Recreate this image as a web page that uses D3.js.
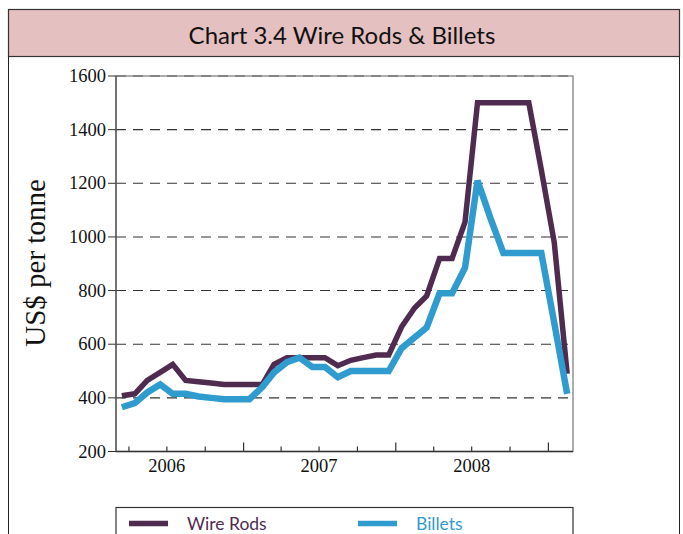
<!DOCTYPE html>
<html>
<head>
<meta charset="utf-8">
<script src="https://cdn.jsdelivr.net/npm/d3@7/dist/d3.min.js"></script>
<style>
  body { margin: 0; background: #fff; }
  svg { display: block; }
</style>
</head>
<body>
<svg width="683" height="534"></svg>
<script>
// monthly, Mar 2006 - Feb 2009
const months = d3.timeMonth.range(new Date(2006, 2, 1), new Date(2009, 2, 1));
const wireRods = [408, 415, 465, 495, 525, 465, 460, 455, 450, 450, 450, 450,
  525, 550, 550, 550, 550, 520, 540, 550, 560, 560,
  665, 735, 780, 920, 920, 1055, 1500, 1500, 1500, 1500, 1500, 1250, 980, 490];
const billets = [365, 380, 420, 450, 415, 415, 405, 400, 395, 395, 395, 440,
  495, 533, 550, 515, 515, 477, 500, 500, 500, 500,
  585, 625, 662, 790, 790, 885, 1210, 1070, 940, 940, 940, 940, 680, 415];
const yTicks = [200, 400, 600, 800, 1000, 1200, 1400, 1600];
const years = [2006, 2007, 2008];

const purple = "#4f2b50", blue = "#2f9bcf";
const svg = d3.select("svg");

// outer frame + title band
svg.append("rect").attr("x", 8.5).attr("y", 9.5).attr("width", 671).attr("height", 47)
  .attr("fill", "#e5c0c0").attr("stroke", "#333").attr("stroke-width", 1.2);
svg.append("line").attr("x1", 8.5).attr("x2", 8.5).attr("y1", 56).attr("y2", 534).attr("stroke", "#222");
svg.append("line").attr("x1", 679.5).attr("x2", 679.5).attr("y1", 56).attr("y2", 534).attr("stroke", "#222");
svg.append("text").attr("x", 342).attr("y", 44).attr("text-anchor", "middle")
  .attr("font-family", "Lato, 'Open Sans', sans-serif").attr("font-size", 24).attr("fill", "#111")
  .text("Chart 3.4 Wire Rods & Billets");

const pLeft = 116, pRight = 573, pTop = 76, pBottom = 451.5;
const x = d3.scaleTime()
  .domain([new Date(2006, 2, 1), new Date(2009, 2, 1)])
  .range([pLeft, pRight]);
const y = d3.scaleLinear().domain([200, 1600]).range([pBottom, pTop]);
const mid = d => new Date(d.getFullYear(), d.getMonth(), 15);

// grid
svg.append("g").selectAll("line").data(yTicks.filter(v => v > 200))
  .join("line")
  .attr("x1", pLeft).attr("x2", pRight)
  .attr("y1", d => y(d)).attr("y2", d => y(d))
  .attr("stroke", "#333").attr("stroke-width", 1.1).attr("stroke-dasharray", "10,7");

// plot frame
svg.append("rect").attr("x", pLeft).attr("y", pTop).attr("width", pRight - pLeft).attr("height", pBottom - pTop)
  .attr("fill", "none").attr("stroke", "#777").attr("stroke-width", 1.2);
svg.append("line").attr("x1", pLeft).attr("x2", pRight).attr("y1", pBottom).attr("y2", pBottom)
  .attr("stroke", "#333").attr("stroke-width", 1.3);
svg.append("line").attr("x1", pLeft).attr("x2", pLeft).attr("y1", pTop).attr("y2", pBottom)
  .attr("stroke", "#555").attr("stroke-width", 1.3);

// y ticks
const yg = svg.append("g");
yg.selectAll("line").data(yTicks).join("line")
  .attr("x1", pLeft - 8).attr("x2", pLeft)
  .attr("y1", d => y(d)).attr("y2", d => y(d)).attr("stroke", "#333");
yg.selectAll("text").data(yTicks).join("text")
  .attr("x", 106).attr("y", d => y(d) + 6).attr("text-anchor", "end")
  .attr("font-family", "'Liberation Serif', 'DejaVu Serif', serif").attr("font-size", 18.5).attr("fill", "#111")
  .text(d => d);

// x ticks: quarters, year boundaries taller
const quarters = d3.timeMonth.every(3).range(new Date(2006, 2, 1), new Date(2009, 2, 1));
svg.append("g").selectAll("line").data(quarters).join("line")
  .attr("x1", d => x(d)).attr("x2", d => x(d))
  .attr("y1", pBottom).attr("y2", d => pBottom - (d.getMonth() === 0 ? 9 : 5))
  .attr("stroke", "#333").attr("stroke-width", 1.2);
svg.append("g").selectAll("text").data(years).join("text")
  .attr("x", d => x(new Date(d, 6, 1))).attr("y", 472).attr("text-anchor", "middle")
  .attr("font-family", "'Liberation Serif', 'DejaVu Serif', serif").attr("font-size", 18.5).attr("fill", "#111")
  .text(d => d);

// y label
svg.append("text").attr("transform", "translate(45,263) rotate(-90)").attr("text-anchor", "middle")
  .attr("font-family", "'Liberation Serif', 'DejaVu Serif', serif").attr("font-size", 29).attr("fill", "#111")
  .text("US$ per tonne");

// lines
const line = vals => d3.line().x((d, i) => x(mid(months[i]))).y(d => y(d))(vals);
svg.append("path").attr("d", line(wireRods)).attr("fill", "none")
  .attr("stroke", purple).attr("stroke-width", 5.5).attr("stroke-linejoin", "miter");
svg.append("path").attr("d", line(billets)).attr("fill", "none")
  .attr("stroke", blue).attr("stroke-width", 6.5).attr("stroke-linejoin", "miter");

// legend
svg.append("rect").attr("x", pLeft).attr("y", 507.5).attr("width", pRight - pLeft).attr("height", 40)
  .attr("fill", "#fff").attr("stroke", "#333").attr("stroke-width", 1.2);
const leg = [{ name: "Wire Rods", c: purple, x: 129 }, { name: "Billets", c: blue, x: 358 }];
const lg = svg.append("g").selectAll("g").data(leg).join("g");
lg.append("line").attr("x1", d => d.x).attr("x2", d => d.x + 39).attr("y1", 523.5).attr("y2", 523.5)
  .attr("stroke", d => d.c).attr("stroke-width", 5.5);
lg.append("text").attr("x", d => d.x + 58).attr("y", 530)
  .attr("font-family", "Lato, 'Open Sans', sans-serif").attr("font-size", 17.5).attr("fill", d => d.c)
  .text(d => d.name);
</script>
</body>
</html>
